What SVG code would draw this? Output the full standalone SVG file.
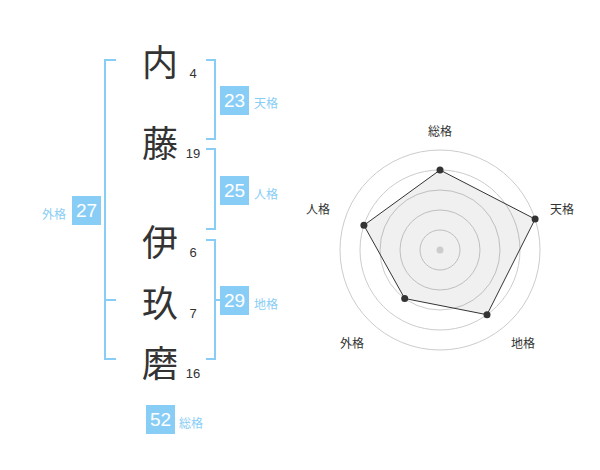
<svg xmlns="http://www.w3.org/2000/svg" width="600" height="470" viewBox="0 0 600 470">
<style>
.ch{font-family:"Noto Sans CJK JP","Noto Sans CJK SC",sans-serif;font-size:36px;fill:#333;text-anchor:middle;dominant-baseline:central}
.st{font-family:"Liberation Sans",Arial,sans-serif;font-size:13px;fill:#333;text-anchor:middle}
.br{fill:none;stroke:#88cdf6;stroke-width:2}
.box{fill:#88cdf6}
.bn{font-family:"Liberation Sans",Arial,sans-serif;font-size:19px;fill:#fff;text-anchor:middle;dominant-baseline:central}
.bl{font-family:"Noto Sans CJK JP","Noto Sans CJK SC",sans-serif;font-size:12px;fill:#88cdf6;dominant-baseline:central}
.ring{fill:none;stroke:#cccccc;stroke-width:1}
.rl{font-family:"Noto Sans CJK JP","Noto Sans CJK SC",sans-serif;font-size:12px;fill:#333;text-anchor:middle;dominant-baseline:central}
</style>
<rect width="600" height="470" fill="#fff"/>
<g id="connectors">
<path class="br" d="M116,60 H105 V359 H116 M105,300 H116"/>
<path class="br" d="M206,60 H215 V139 H206"/>
<path class="br" d="M206,149 H215 V229 H206"/>
<path class="br" d="M206,240 H215 V359 H206 M215,300 H223"/>
</g>
<g id="char-nai"><text class="ch" x="160" y="60">内</text><text class="st" x="193" y="78">4</text></g>
<g id="char-fuji"><text class="ch" x="160" y="141">藤</text><text class="st" x="193" y="158">19</text></g>
<g id="char-i"><text class="ch" x="160" y="240">伊</text><text class="st" x="193" y="257">6</text></g>
<g id="char-ku"><text class="ch" x="160" y="301">玖</text><text class="st" x="193" y="318">7</text></g>
<g id="char-ma"><text class="ch" x="160" y="361">磨</text><text class="st" x="193" y="378">16</text></g>
<g id="tenkaku"><rect class="box" x="220" y="86" width="29" height="29"/><text class="bn" x="234.5" y="100.5">23</text><text class="bl" x="254" y="102">天格</text></g>
<g id="jinkaku"><rect class="box" x="220" y="176" width="29" height="29"/><text class="bn" x="234.5" y="190.5">25</text><text class="bl" x="254" y="193">人格</text></g>
<g id="chikaku"><rect class="box" x="220" y="286" width="29" height="29"/><text class="bn" x="234.5" y="300.5">29</text><text class="bl" x="254" y="303">地格</text></g>
<g id="gaikaku"><rect class="box" x="72" y="196" width="29" height="29"/><text class="bn" x="86.5" y="210.5">27</text><text class="bl" x="42" y="213">外格</text></g>
<g id="soukaku"><rect class="box" x="146" y="405" width="29" height="29"/><text class="bn" x="160.5" y="419.5">52</text><text class="bl" x="179" y="422">総格</text></g>
<g id="radar">
<circle class="ring" cx="440" cy="250" r="20"/>
<circle class="ring" cx="440" cy="250" r="40"/>
<circle class="ring" cx="440" cy="250" r="60"/>
<circle class="ring" cx="440" cy="250" r="80"/>
<circle class="ring" cx="440" cy="250" r="100"/>
<polygon points="440,170 535.1,219.1 487,314.7 404.7,298.5 363.9,225.3" fill="#000" fill-opacity="0.06" stroke="#333" stroke-width="1"/>
<circle cx="440" cy="250" r="3.5" fill="#cccccc"/>
<g fill="#333">
<circle cx="440" cy="170" r="3.5"/>
<circle cx="535.1" cy="219.1" r="3.5"/>
<circle cx="487" cy="314.7" r="3.5"/>
<circle cx="404.7" cy="298.5" r="3.5"/>
<circle cx="363.9" cy="225.3" r="3.5"/>
</g>
<text class="rl" x="440" y="130">総格</text>
<text class="rl" x="562" y="208">天格</text>
<text class="rl" x="523" y="342">地格</text>
<text class="rl" x="352" y="342">外格</text>
<text class="rl" x="318" y="208">人格</text>
</g>
</svg>
